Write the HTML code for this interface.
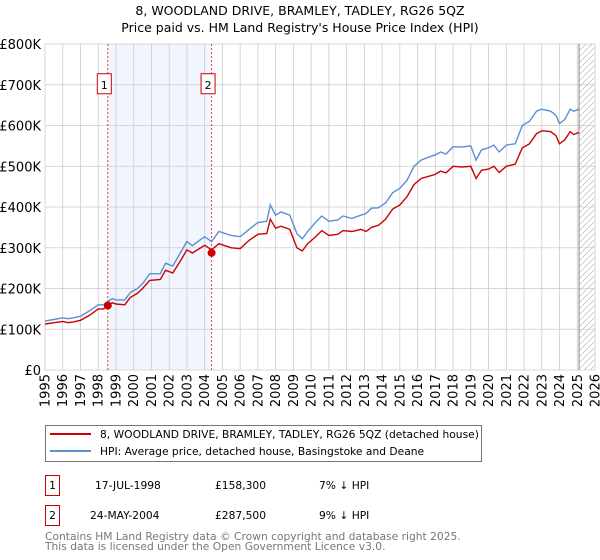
<!DOCTYPE html>
<html><head><meta charset="utf-8"><style>
body{margin:0;background:#fff;}
svg{display:block;font-family:"DejaVu Sans","Liberation Sans",sans-serif;}
</style></head><body>
<svg id="c" width="600" height="560" viewBox="0 0 600 560">
<text x="300" y="15" text-anchor="middle" font-size="12.5">8, WOODLAND DRIVE, BRAMLEY, TADLEY, RG26 5QZ</text>
<text x="300" y="32" text-anchor="middle" font-size="12.5">Price paid vs. HM Land Registry's House Price Index (HPI)</text>
<g id="plot"></g>
<g>
<rect x="45.5" y="425.5" width="436" height="36" fill="#fff" stroke="#777"/>
<line x1="50" y1="434" x2="91" y2="434" stroke="#cc0000" stroke-width="2"/>
<text x="100" y="438" font-size="10.7">8, WOODLAND DRIVE, BRAMLEY, TADLEY, RG26 5QZ (detached house)</text>
<line x1="50" y1="451" x2="91" y2="451" stroke="#5b8fd0" stroke-width="2"/>
<text x="100" y="455" font-size="10.7">HPI: Average price, detached house, Basingstoke and Deane</text>
</g>
<g font-size="10.7">
<rect x="45.5" y="475.5" width="14" height="20" fill="#fff" stroke="#cc0000"/>
<text x="52.5" y="489" text-anchor="middle">1</text>
<text x="95" y="489">17-JUL-1998</text>
<text x="215" y="489">£158,300</text>
<text x="319" y="489">7% ↓ HPI</text>
<rect x="45.5" y="505.5" width="14" height="20" fill="#fff" stroke="#cc0000"/>
<text x="52.5" y="519" text-anchor="middle">2</text>
<text x="90" y="519">24-MAY-2004</text>
<text x="215" y="519">£287,500</text>
<text x="319" y="519">9% ↓ HPI</text>
</g>
<text x="45" y="540" font-size="10.7" fill="#777">Contains HM Land Registry data © Crown copyright and database right 2025.</text>
<text x="45" y="550" font-size="10.7" fill="#777">This data is licensed under the Open Government Licence v3.0.</text>
</svg>
<script>
const yearTicks=[1995,1996,1997,1998,1999,2000,2001,2002,2003,2004,2005,2006,2007,2008,2009,2010,2011,2012,2013,2014,2015,2016,2017,2018,2019,2020,2021,2022,2023,2024,2025,2026];
const valueTicks=[0,100,200,300,400,500,600,700,800];
const valueLabels=["£0","£100K","£200K","£300K","£400K","£500K","£600K","£700K","£800K"];
const times=[1995.0,1995.5,1996.0,1996.3,1996.6,1997.0,1997.5,1998.0,1998.3,1998.54,1998.8,1999.0,1999.5,1999.8,2000.2,2000.5,2000.9,2001.5,2001.8,2002.2,2002.6,2003.0,2003.3,2003.7,2004.0,2004.39,2004.8,2005.5,2006.0,2006.5,2007.0,2007.5,2007.7,2008.0,2008.3,2008.8,2009.2,2009.5,2009.8,2010.2,2010.6,2011.0,2011.5,2011.8,2012.3,2012.8,2013.1,2013.4,2013.8,2014.2,2014.6,2015.0,2015.4,2015.8,2016.2,2016.6,2017.0,2017.3,2017.6,2018.0,2018.5,2019.0,2019.3,2019.6,2020.0,2020.3,2020.6,2021.0,2021.5,2021.9,2022.3,2022.7,2023.0,2023.5,2023.8,2024.0,2024.3,2024.6,2024.8,2025.1];
const hpiValues=[120,124,128,126,128,132,145,160,160,168,175,172,172,190,200,212,236,236,262,255,285,315,305,318,327,315,340,330,327,345,362,365,405,380,388,380,335,322,340,360,378,365,368,378,372,380,384,397,398,410,435,446,465,500,515,522,528,535,530,548,547,550,515,540,545,552,535,552,555,600,610,635,640,635,625,605,615,640,635,640];
const propertyValues=[113,116,119,116,118,122,134,150,150,158,165,162,160,178,188,200,220,222,245,238,265,295,287,298,306,295,310,300,298,318,333,335,370,348,353,345,300,292,310,325,342,330,333,342,340,345,340,350,355,370,395,405,425,455,470,475,480,488,484,500,498,500,470,490,493,500,485,500,505,545,555,580,587,585,575,555,565,585,578,583];
const saleLabels=["1","2"];
const saleTimes=[1998.54,2004.39];
const saleValues=[158.3,287.5];
const projEnd=2025.1;

const NS="http://www.w3.org/2000/svg";
const L=45,R=595,T=44,B=370;
const xs=t=>L+(t-1995)/31*(R-L);
const ys=v=>B-v/800*(B-T);
const plot=document.getElementById('plot');
function mk(tag,attrs,parent){const e=document.createElementNS(NS,tag);for(const k in attrs)e.setAttribute(k,attrs[k]);(parent||plot).appendChild(e);return e;}
let sh=mk('rect',{x:xs(saleTimes[0]),y:T,width:xs(saleTimes[1])-xs(saleTimes[0]),height:B-T,fill:'#eef3fd',opacity:0.8});


const defs=mk('defs',{});
const pat=mk('pattern',{id:'hatch',width:6,height:6,patternUnits:'userSpaceOnUse'},defs);
mk('path',{d:'M0,6 L6,0',stroke:'#bbb','stroke-width':0.7},pat);
let ht=mk('rect',{x:xs(projEnd),y:T,width:R-xs(projEnd),height:B-T,fill:'url(#hatch)'});


yearTicks.forEach(y=>{
 let g=mk('line',{x1:xs(y),x2:xs(y),y1:T,y2:B,stroke:'#ccc','stroke-width':0.8});
 
 
 let t=mk('text',{transform:`translate(${xs(y)+4.5},${B+4}) rotate(-90)`,'text-anchor':'end','font-size':13});
 t.textContent=y;
 
 
});
valueTicks.forEach((v,i)=>{
 let g=mk('line',{x1:L,x2:R,y1:ys(v),y2:ys(v),stroke:'#ccc','stroke-width':0.8});
 
 
 let t=mk('text',{x:L-4,y:ys(v)+5,'text-anchor':'end','font-size':13});
 t.textContent=valueLabels[i];
 
 
});
let pl=mk('line',{x1:xs(projEnd),x2:xs(projEnd),y1:T,y2:B,stroke:'#888','stroke-width':1});


saleTimes.forEach((t,i)=>{
 let l=mk('line',{x1:xs(t),x2:xs(t),y1:T,y2:B,stroke:'#e04040','stroke-width':1,'stroke-dasharray':'2,2'});
 
 
});
function pts(vals){return times.map((t,i)=>xs(t).toFixed(1)+','+ys(vals[i]).toFixed(1)).join(' ');}
let hl=mk('polyline',{points:pts(hpiValues),fill:'none',stroke:'#5b8fd0','stroke-width':1.4});


let rl=mk('polyline',{points:pts(propertyValues),fill:'none',stroke:'#cc0000','stroke-width':1.4});


saleTimes.forEach((t,i)=>{
 let c=mk('circle',{cx:xs(t),cy:ys(saleValues[i]),r:4,fill:'#cc0000'});
 
 
 let b=mk('rect',{x:xs(t)-10.5,y:ys(700)-11,width:14,height:20,fill:'#fff',stroke:'#cc0000'});
 
 
 let tx=mk('text',{x:xs(t)-3.5,y:ys(700)+4,'text-anchor':'middle','font-size':11});
 tx.textContent=saleLabels[i];
 
 
});
</script>
</body></html>
